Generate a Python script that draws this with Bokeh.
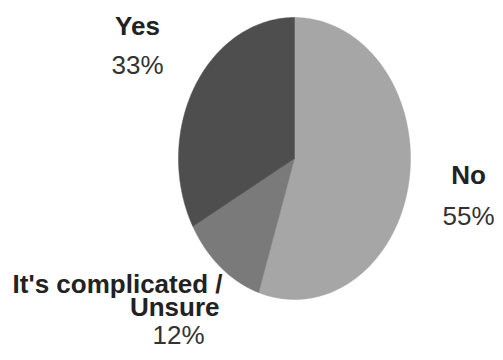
import numpy as np
from bokeh.plotting import figure
from bokeh.models import Range1d
from bokeh.core.properties import value
from bokeh.embed import file_html
from bokeh.resources import INLINE

# ---- data ----
categories = ["No", "It's complicated /\nUnsure", "Yes"]
shares = [55, 12, 33]
pct_labels = ["55%", "12%", "33%"]
colors = ["#a6a6a6", "#7a7a7a", "#4e4e4e"]

# ---- layout (picture pixel coordinates) ----
CX, CY, RX, RY = 294, 158, 116, 141
FONT = "Liberation Sans"
FS = "26px"

p = figure(width=495, height=352, output_backend="svg", toolbar_location=None,
           x_range=Range1d(0, 495), y_range=Range1d(352, 0), min_border=0)
p.axis.visible = False
p.grid.visible = False
p.outline_line_color = None
p.background_fill_color = "white"

# pie slices as elliptical patches, clockwise from 12 o'clock
total = float(sum(shares))
fr = np.cumsum([0] + shares) / total
xs, ys = [], []
for i in range(len(shares)):
    t = np.linspace(fr[i], fr[i + 1], 120) * 2 * np.pi
    px = CX + RX * np.sin(t)
    py = CY - RY * np.cos(t)
    xs.append([CX] + list(px))
    ys.append([CY] + list(py))
p.patches(xs=xs, ys=ys, fill_color=colors, line_color=colors, line_width=0.5)

# labels: name (bold) and percentage (vertical centre of each text line)
name_pos = {0: [(468, 174, "center")],
            1: [(222, 283, "right"), (219, 306, "right")],
            2: [(137, 25, "center")]}
pct_pos = {0: (468, 215), 1: (178, 334), 2: (137, 64)}

for i, cat in enumerate(categories):
    lines = cat.split("\n")
    for line, (x, y, al) in zip(lines, name_pos[i]):
        p.text(x=[x], y=[y], text=[line], text_font=value(FONT),
               text_font_size=FS, text_font_style="bold", text_color="#222222",
               text_align=al, text_baseline="middle")
    x, y = pct_pos[i]
    p.text(x=[x], y=[y], text=[pct_labels[i]], text_font=value(FONT),
           text_font_size=FS, text_color="#333333",
           text_align="center", text_baseline="middle")

open("out.html", "w").write(file_html(p, INLINE))
